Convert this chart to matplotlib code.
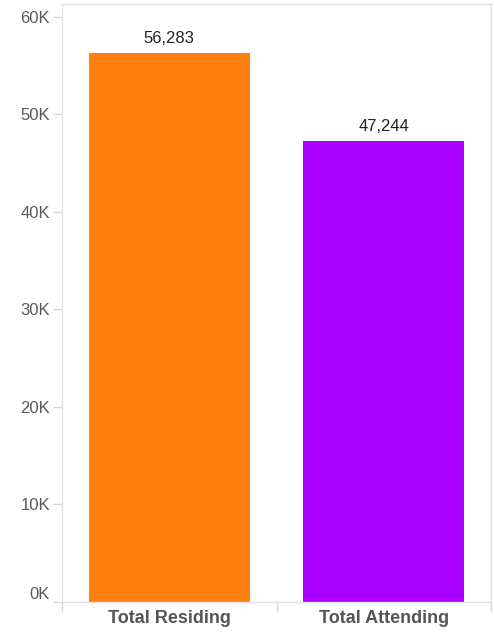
import matplotlib.pyplot as plt
from matplotlib.ticker import FuncFormatter

# data
categories = ['Total Residing', 'Total Attending']
values = [56283, 47244]
colors = ['#FF7F0E', '#AA00FF']

plt.rcParams['font.family'] = ['Liberation Sans', 'DejaVu Sans']

fig = plt.figure(figsize=(4.94, 6.33), dpi=100)
# axes box: left 62px, right 491px, bottom 602px, top 4px
ax = fig.add_axes([62 / 494, 31 / 633, 429 / 494, 598 / 633])

x = list(range(len(categories)))
bars = ax.bar(x, values, width=0.75, color=colors)

# value labels above bars
for rect, v in zip(bars, values):
    ax.annotate(f'{v:,}', (rect.get_x() + rect.get_width() / 2, v),
                xytext=(0, 5), textcoords='offset points', ha='center', va='bottom',
                fontsize=12, color='#222222')

ax.set_xlim(-0.5, len(categories) - 0.5)
ax.set_ylim(0, 61300)
ax.set_yticks(range(0, 60001, 10000))
ax.yaxis.set_major_formatter(FuncFormatter(lambda v, _: f'{int(v / 1000)}K'))

# category labels at centers, tick marks at band edges
ax.set_xticks(x)
ax.set_xticklabels(categories, fontsize=13, fontweight='bold', color='#555555')
ax.set_xticks([i - 0.5 for i in range(len(categories) + 1)], minor=True)
ax.tick_params(axis='x', which='major', length=0, pad=6)
ax.tick_params(axis='x', which='minor', length=7, color='#D8D8D8', width=1)
ax.tick_params(axis='y', length=6.5, color='#D8D8D8', width=1, labelsize=12,
               labelcolor='#595959', pad=2)

# the 0K label sits just above the baseline, like the original
fig.canvas.draw()
ax.get_yticklabels()[0].set_verticalalignment('bottom')

for side in ['left', 'bottom', 'right', 'top']:
    ax.spines[side].set_color('#E3E3E3')
    ax.spines[side].set_linewidth(1)

plt.savefig('out.png', dpi=100)
